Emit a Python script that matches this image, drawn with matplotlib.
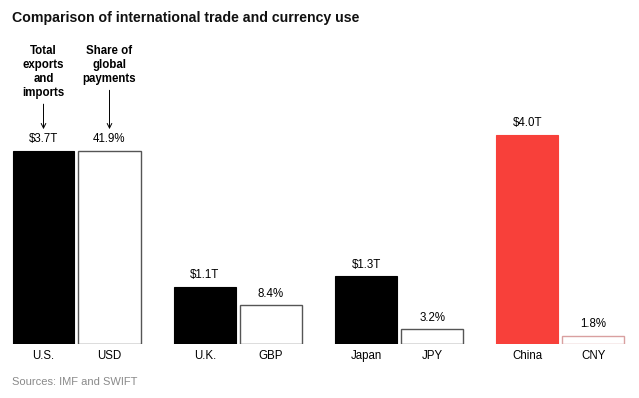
import matplotlib.pyplot as plt
import numpy as np

plt.rcParams['font.family'] = ['Liberation Sans', 'DejaVu Sans']

# data
countries = ['U.S.', 'U.K.', 'Japan', 'China']
currencies = ['USD', 'GBP', 'JPY', 'CNY']
trade = [3.7, 1.1, 1.3, 4.0]          # total exports and imports, $ trillions
payments = [41.9, 8.4, 3.2, 1.8]      # share of global payments, %
trade_labels = ['$3.7T', '$1.1T', '$1.3T', '$4.0T']
pay_labels = ['41.9%', '8.4%', '3.2%', '1.8%']

W, H = 639, 398
fig = plt.figure(figsize=(W / 100, H / 100), dpi=100)

# axes: bottom of bars at y=344px, top of axes at 60px
bottom_px, top_px = 344, 60
ax = fig.add_axes([0, 1 - bottom_px / H, 1, (bottom_px - top_px) / H])
px_per_t = 209 / 4.0
ymax = (bottom_px - top_px) / px_per_t
ax.set_ylim(0, ymax)
ax2 = ax.twinx()
ax2.set_ylim(0, ymax * payments[0] / trade[0])

group_px = 161.3
ax.set_xlim(-76.5 / group_px, (W - 76.5) / group_px)
ax2.set_xlim(ax.get_xlim())

x = np.arange(len(countries))
bw = 62 / group_px
off = 33 / group_px

black_cols = ['black', 'black', 'black', '#f8403a']
ax.bar(x - off, trade, width=bw, color=black_cols, edgecolor=black_cols, linewidth=0.8)
edge_cols = ['#555555', '#555555', '#555555', '#d9a0a0']
ax2.bar(x + off, payments, width=bw, color='white', edgecolor=edge_cols, linewidth=1.0)

fs = 8.3
for i in range(len(x)):
    ax.annotate(trade_labels[i], (x[i] - off, trade[i]), xytext=(0, 4),
                textcoords='offset points', ha='center', va='bottom', fontsize=fs)
    ax2.annotate(pay_labels[i], (x[i] + off, payments[i]), xytext=(0, 4),
                 textcoords='offset points', ha='center', va='bottom', fontsize=fs)
    ax.annotate(countries[i], (x[i] - off, 0), xytext=(0, -4),
                textcoords='offset points', ha='center', va='top', fontsize=fs)
    ax.annotate(currencies[i], (x[i] + off, 0), xytext=(0, -4),
                textcoords='offset points', ha='center', va='top', fontsize=fs)

for a in (ax, ax2):
    a.axis('off')

# call-outs over the U.S. pair
ax.annotate('Total\nexports\nand\nimports', xy=(x[0] - off, trade[0]), xytext=(0, 37.5),
            textcoords='offset points', ha='center', va='bottom', fontsize=fs,
            fontweight='bold', linespacing=1.2,
            arrowprops=dict(arrowstyle='->', color='black', lw=0.7, shrinkA=2, shrinkB=15.5))
ax2.annotate('Share of\nglobal\npayments', xy=(x[0] + off, payments[0]), xytext=(0, 47.5),
             textcoords='offset points', ha='center', va='bottom', fontsize=fs,
             fontweight='bold', linespacing=1.2,
             arrowprops=dict(arrowstyle='->', color='black', lw=0.7, shrinkA=2, shrinkB=15.5))

fig.text(12 / W, 1 - 18 / H, 'Comparison of international trade and currency use',
         fontsize=10.2, fontweight='bold', va='center', ha='left', color='#111111')
fig.text(12 / W, 1 - 382 / H, 'Sources: IMF and SWIFT', fontsize=8,
         color='#8a8a8a', va='center', ha='left')

fig.savefig('out.png', dpi=100)
